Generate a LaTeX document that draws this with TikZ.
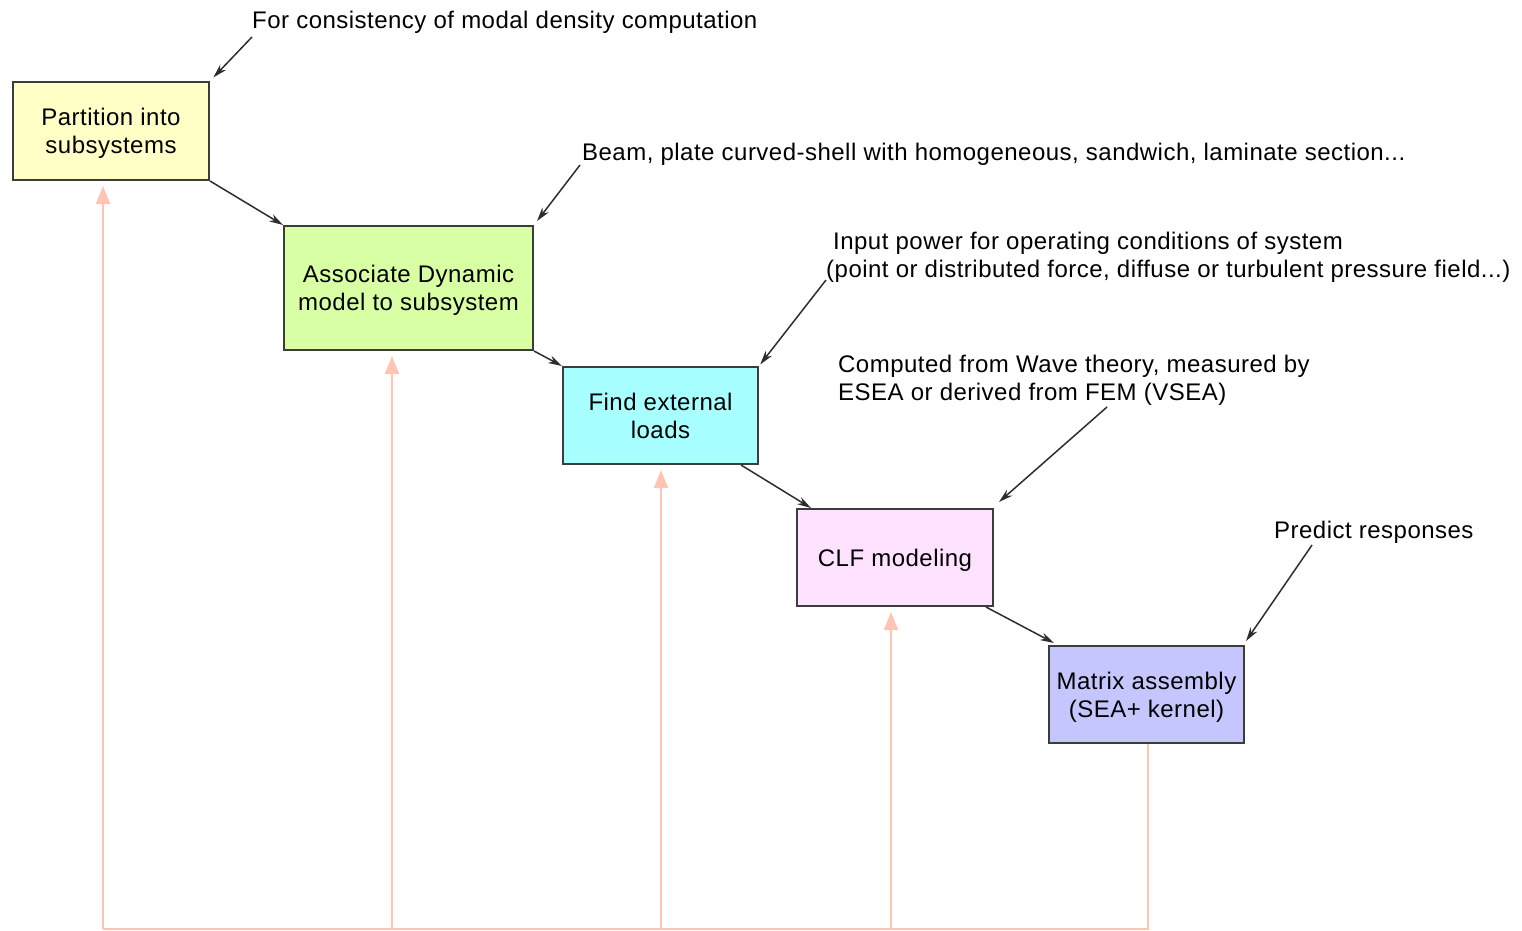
\documentclass[tikz,border=0pt]{standalone}
\usepackage{fontspec}
\setmainfont{Liberation Sans}[LetterSpace=2]
\usetikzlibrary{arrows.meta}
\definecolor{boxline}{RGB}{60,60,60}
\definecolor{arrowdark}{RGB}{45,45,45}
\definecolor{fbcol}{RGB}{255,196,180}
\definecolor{cyellow}{RGB}{255,255,198}
\definecolor{cgreen}{RGB}{216,255,164}
\definecolor{ccyan}{RGB}{168,255,255}
\definecolor{cpink}{RGB}{255,226,255}
\definecolor{clav}{RGB}{198,198,255}
\begin{document}
\begin{tikzpicture}[x=1pt,y=-1pt,
  stepbox/.style={draw=boxline,line width=2pt,rectangle,inner sep=0pt,text depth=0pt,
    align=center,font=\fontsize{24}{28}\selectfont},
  note/.style={anchor=west,inner sep=0pt,align=left,font=\fontsize{24}{28}\selectfont},
  flow/.style={draw=arrowdark,line width=1.5pt,-{Stealth[length=14pt,width=8pt]}},
  fb/.style={draw=fbcol,line width=2pt},
  fbarrow/.style={fb,-{Triangle[length=18pt,width=14pt]}}]
\useasboundingbox (0,0) rectangle (1522,930);

% process steps
\node[stepbox,fill=cyellow,minimum width=196pt,minimum height=98pt] (b1) at (111,131) {Partition into\\subsystems};
\node[stepbox,fill=cgreen,minimum width=249pt,minimum height=124pt] (b2) at (408.5,288) {Associate Dynamic\\model to subsystem};
\node[stepbox,fill=ccyan,minimum width=195pt,minimum height=97pt] (b3) at (660.5,415.5) {Find external\\loads};
\node[stepbox,fill=cpink,minimum width=196pt,minimum height=97pt] (b4) at (895,557.5) {CLF modeling};
\node[stepbox,fill=clav,minimum width=195pt,minimum height=97pt] (b5) at (1146.5,694.5) {Matrix assembly\\(SEA+ kernel)};

% step-to-step connectors
\draw[flow] (b1.south east) -- (b2.north west);
\draw[flow] (b2.south east) -- (b3.north west);
\draw[flow] ([xshift=-18pt]b3.south east) -- ([xshift=15pt]b4.north west);
\draw[flow] ([xshift=-8pt]b4.south east) -- ([xshift=6pt,yshift=2pt]b5.north west);

% remarks
\node[note] (n1) at (252,22.5) {For consistency of modal density computation};
\node[note] (n2) at (582,154.5) {Beam, plate curved-shell with homogeneous, sandwich, laminate section...};
\node[note] (n3) at (833,257.5) {Input power for operating conditions of system\\\hspace*{-7pt}(point or distributed force, diffuse or turbulent pressure field...)};
\node[note] (n4) at (838,380.5) {Computed from Wave theory, measured by\\ESEA or derived from FEM (VSEA)};
\node[note] (n5) at (1274,532.5) {Predict responses};

\coordinate (r1) at (252,37);
\coordinate (r2) at (580,165);
\coordinate (r3) at (826,280);
\coordinate (r4) at (1107,407);
\coordinate (r5) at (1312,545);
\draw[flow,shorten >=5pt] (r1) -- (b1.north east);
\draw[flow,shorten >=5pt] (r2) -- (b2.north east);
\draw[flow,shorten >=2pt] (r3) -- (b3.north east);
\draw[flow] (r4) -- ([xshift=5pt,yshift=6pt]b4.north east);
\draw[flow] (r5) -- ([xshift=1pt,yshift=4pt]b5.north east);

% feedback loop
\coordinate (base) at (1148,929);
\draw[fb] ([xshift=1.5pt]b5.south) -- (base) -- ([xshift=-8pt]b1.south |- base);
\draw[fbarrow,shorten >=5pt] ([xshift=-8pt]b1.south |- base) -- ([xshift=-8pt]b1.south);
\draw[fbarrow,shorten >=5pt] ([xshift=-16.5pt]b2.south |- base) -- ([xshift=-16.5pt]b2.south);
\draw[fbarrow,shorten >=5pt] ([xshift=0.5pt]b3.south |- base) -- ([xshift=0.5pt]b3.south);
\draw[fbarrow,shorten >=5pt] ([xshift=-4pt]b4.south |- base) -- ([xshift=-4pt]b4.south);
\end{tikzpicture}
\end{document}
